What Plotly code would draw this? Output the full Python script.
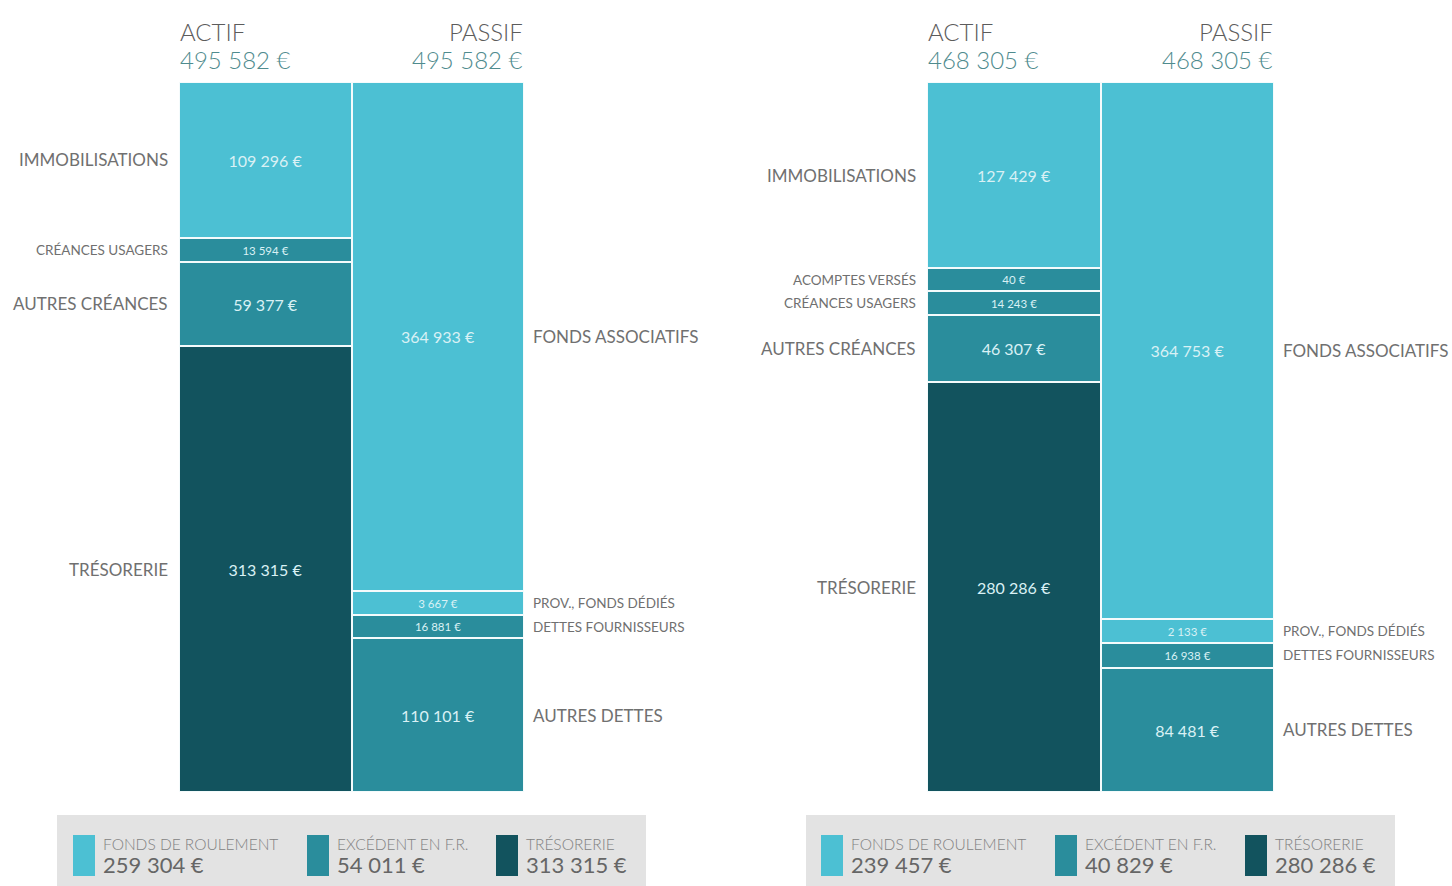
import plotly.graph_objects as go

W, H = 1452, 886

# ---------------- data ----------------
left_actif_labels = ["IMMOBILISATIONS", "CRÉANCES USAGERS", "AUTRES CRÉANCES", "TRÉSORERIE"]
left_actif_values = [109296, 13594, 59377, 313315]
left_passif_labels = ["FONDS ASSOCIATIFS", "PROV., FONDS DÉDIÉS", "DETTES FOURNISSEURS", "AUTRES DETTES"]
left_passif_values = [364933, 3667, 16881, 110101]

right_actif_labels = ["IMMOBILISATIONS", "ACOMPTES VERSÉS", "CRÉANCES USAGERS", "AUTRES CRÉANCES", "TRÉSORERIE"]
right_actif_values = [127429, 40, 14243, 46307, 280286]
right_passif_labels = ["FONDS ASSOCIATIFS", "PROV., FONDS DÉDIÉS", "DETTES FOURNISSEURS", "AUTRES DETTES"]
right_passif_values = [364753, 2133, 16938, 84481]

left_total = 495582
right_total = 468305

legend_labels = ["FONDS DE ROULEMENT", "EXCÉDENT EN F.R.", "TRÉSORERIE"]
left_legend_values = [259304, 54011, 313315]
right_legend_values = [239457, 40829, 280286]

# ---------------- style ----------------
LIGHT = "#4cc0d3"
MED = "#2a8d9c"
DARK = "#12535e"
LEG_COLORS = [LIGHT, MED, DARK]
left_actif_colors = [LIGHT, MED, MED, DARK]
right_actif_colors = [LIGHT, MED, MED, MED, DARK]
passif_colors = [LIGHT, LIGHT, MED, MED]

FONT = "Lato"
LABEL_COL = "#707070"
SEG_TEXT = "#d9f1f5"
MIN_SHARE = 0.034   # minimum visible height of a segment (share of the column)


def fmt(v):
    return f"{v:,}".replace(",", " ") + " €"


def display_heights(values, total):
    disp = [max(v, MIN_SHARE * total) for v in values]
    k = total / sum(disp)
    return [d * k for d in disp]


def px_x(x):
    return x / W


def px_y(y):
    return (H - y) / H


fig = go.Figure()
annotations = []
shapes = []


def add_column(values, labels, colors, total, col, xa, ya, side):
    disp = display_heights(values, total)
    base = 0
    for v, d, lab, c in zip(values, disp, labels, colors):
        small = (d / total) < 0.06
        fig.add_trace(go.Bar(
            x=[col], y=[d], xaxis=xa, yaxis=ya,
            marker=dict(color=c, line=dict(color="#f4fbfc", width=2)),
            text=[fmt(v)], textposition="inside", insidetextanchor="middle",
            textangle=0,
            textfont=dict(family=FONT, size=11.5 if small else 16, color=SEG_TEXT),
            hovertext=[f"{lab}: {fmt(v)}"], hoverinfo="text",
            showlegend=False,
        ))
        yref = "y" if ya == "y" else "y2"
        xref = "x" if xa == "x" else "x2"
        annotations.append(dict(
            text=lab, xref=xref, yref=yref,
            x=-0.5 if side == "left" else 1.5, y=base + d / 2,
            xanchor="right" if side == "left" else "left", yanchor="middle",
            xshift=-9 if side == "left" else 7,
            showarrow=False,
            font=dict(family=FONT, size=13.5 if small else 17, color=LABEL_COL),
        ))
        base += d


add_column(left_actif_values, left_actif_labels, left_actif_colors, left_total, "ACTIF", "x", "y", "left")
add_column(left_passif_values, left_passif_labels, passif_colors, left_total, "PASSIF", "x", "y", "right")
add_column(right_actif_values, right_actif_labels, right_actif_colors, right_total, "ACTIF", "x2", "y2", "left")
add_column(right_passif_values, right_passif_labels, passif_colors, right_total, "PASSIF", "x2", "y2", "right")

# headers
for (x0, x1, total) in [(179, 524, left_total), (927, 1274, right_total)]:
    for txt, xx, anc in [("ACTIF", x0, "left"), ("PASSIF", x1, "right")]:
        annotations.append(dict(text=txt, xref="paper", yref="paper", x=px_x(xx), y=px_y(31),
                                xanchor=anc, yanchor="middle", showarrow=False, borderpad=0,
                                font=dict(family=FONT, size=24, color="#5c5c5c", weight=300)))
        annotations.append(dict(text=fmt(total), xref="paper", yref="paper", x=px_x(xx), y=px_y(59),
                                xanchor=anc, yanchor="middle", showarrow=False, borderpad=0,
                                font=dict(family=FONT, size=24, color="#4f8b8e", weight=300)))

# legend boxes
for box_x0, box_x1, sq_xs, vals in [
    (57, 646, [73, 307, 496], left_legend_values),
    (806, 1395, [821, 1055, 1245], right_legend_values),
]:
    shapes.append(dict(type="rect", xref="paper", yref="paper",
                       x0=px_x(box_x0), x1=px_x(box_x1), y0=0, y1=px_y(815),
                       fillcolor="#e3e3e3", line=dict(width=0), layer="below"))
    for sx, lab, v, c in zip(sq_xs, legend_labels, vals, LEG_COLORS):
        shapes.append(dict(type="rect", xref="paper", yref="paper",
                           x0=px_x(sx), x1=px_x(sx + 22), y0=px_y(876), y1=px_y(835),
                           fillcolor=c, line=dict(width=0)))
        annotations.append(dict(text=lab, xref="paper", yref="paper", x=px_x(sx + 28), y=px_y(844),
                                xanchor="left", yanchor="middle", showarrow=False,
                                font=dict(family=FONT, size=15.5, color="#828282", weight=300)))
        annotations.append(dict(text=fmt(v), xref="paper", yref="paper", x=px_x(sx + 28), y=px_y(864),
                                xanchor="left", yanchor="middle", showarrow=False,
                                font=dict(family=FONT, size=22, color="#666666")))

axis_off = dict(showticklabels=False, showgrid=False, zeroline=False, showline=False, fixedrange=True)
ydom = [px_y(792), px_y(82)]

fig.update_layout(
    width=W, height=H,
    margin=dict(l=0, r=0, t=0, b=0),
    paper_bgcolor="white", plot_bgcolor="white",
    barmode="stack", bargap=0,
    showlegend=False,
    xaxis=dict(domain=[px_x(179), px_x(524)], range=[-0.5, 1.5], **axis_off),
    yaxis=dict(domain=ydom, range=[left_total, 0], **axis_off),
    xaxis2=dict(domain=[px_x(927), px_x(1274)], range=[-0.5, 1.5], anchor="y2", **axis_off),
    yaxis2=dict(domain=ydom, range=[right_total, 0], anchor="x2", **axis_off),
    annotations=annotations,
    shapes=shapes,
)

fig.write_html("out.html", config={"displayModeBar": False},
               post_script="document.body.style.margin='0';document.body.style.overflow='hidden';")
